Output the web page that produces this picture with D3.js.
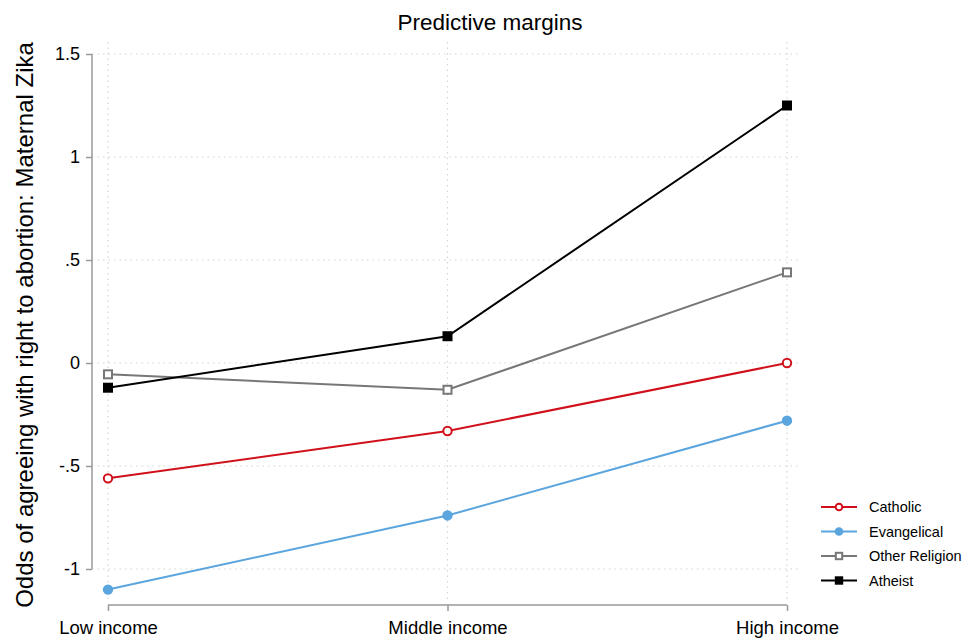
<!DOCTYPE html>
<html>
<head>
<meta charset="utf-8">
<script src="https://cdn.jsdelivr.net/npm/d3@7"></script>
<style>
  body { margin: 0; background: #fff; }
  text { font-family: Arial, "Liberation Sans", sans-serif; }
</style>
</head>
<body>
<svg id="chart" width="976" height="643"></svg>
<script>
// income groups on the x axis
const incomes = ["Low income", "Middle income", "High income"];
// predictive margins per religion
const catholic = [-0.56, -0.33, 0.0];
const evangelical = [-1.10, -0.74, -0.28];
const otherReligion = [-0.055, -0.13, 0.44];
const atheist = [-0.12, 0.13, 1.25];
const seriesNames = ["Catholic", "Evangelical", "Other Religion", "Atheist"];
const yTicks = [-1, -0.5, 0, 0.5, 1, 1.5];
const yTickLabels = ["-1", "-.5", "0", ".5", "1", "1.5"];

const svg = d3.select("#chart");

const x = d3.scalePoint().domain(incomes).range([108, 787]);
const y = d3.scaleLinear().domain([0, 1.5]).range([363, 54]);

// styles per series
const styles = [
  { color: "#d0111b", marker: "circle", fill: "#fff" },
  { color: "#5aa5de", marker: "circle", fill: "#5aa5de" },
  { color: "#777777", marker: "square", fill: "#fff" },
  { color: "#000000", marker: "square", fill: "#000" }
];
const allSeries = [catholic, evangelical, otherReligion, atheist];

// grid lines
svg.append("g").selectAll("line").data(yTicks).join("line")
  .attr("x1", 92).attr("x2", 800)
  .attr("y1", d => y(d)).attr("y2", d => y(d))
  .attr("stroke", "#d4d4d4").attr("stroke-width", 1.2)
  .attr("stroke-dasharray", "1.5,4");

svg.append("g").selectAll("line").data(incomes).join("line")
  .attr("x1", d => x(d)).attr("x2", d => x(d))
  .attr("y1", 42).attr("y2", 600)
  .attr("stroke", "#d4d4d4").attr("stroke-width", 1.2)
  .attr("stroke-dasharray", "1.5,4");

// y axis
const yAxis = d3.axisLeft(y).tickValues(yTicks)
  .tickFormat((d, i) => yTickLabels[i]).tickSize(6).tickPadding(6);
const gy = svg.append("g").attr("transform", "translate(92,0)").call(yAxis);
gy.select(".domain").attr("stroke", "#999").attr("stroke-width", 1.5)
  .attr("d", `M0,${y(1.5)}V${y(-1)}`);
gy.selectAll(".tick line").attr("stroke", "#999").attr("stroke-width", 1.5);
gy.selectAll(".tick text").attr("font-size", 18).attr("fill", "#000")
  .attr("font-family", "Arial, 'Liberation Sans', sans-serif");

// x axis
const xAxis = d3.axisBottom(x).tickSize(6).tickPadding(10);
const gx = svg.append("g").attr("transform", "translate(0,605)").call(xAxis);
gx.select(".domain").attr("stroke", "#999").attr("stroke-width", 1.5)
  .attr("d", `M${x(incomes[0])},0H${x(incomes[2])}`);
gx.selectAll(".tick line").attr("stroke", "#999").attr("stroke-width", 1.5);
gx.selectAll(".tick text").attr("font-size", 18.5).attr("fill", "#000")
  .attr("font-family", "Arial, 'Liberation Sans', sans-serif");

// title
svg.append("text").attr("x", 490).attr("y", 30)
  .attr("text-anchor", "middle").attr("font-size", 22.5)
  .text("Predictive margins");

// y label
svg.append("text")
  .attr("transform", "translate(33,325) rotate(-90)")
  .attr("text-anchor", "middle").attr("font-size", 24)
  .text("Odds of agreeing with right to abortion: Maternal Zika");

const line = d3.line().x((d, i) => x(incomes[i])).y(d => y(d));

function drawMarker(g, style, cx, cy, k) {
  k = k || 1;
  if (style.marker === "circle") {
    g.append("circle").attr("cx", cx).attr("cy", cy).attr("r", 4.2 * k)
      .attr("fill", style.fill).attr("stroke", style.color).attr("stroke-width", 2);
  } else {
    g.append("rect").attr("x", cx - 4 * k).attr("y", cy - 4 * k)
      .attr("width", 8 * k).attr("height", 8 * k)
      .attr("fill", style.fill).attr("stroke", style.color).attr("stroke-width", 2);
  }
}

// draw series
allSeries.forEach((vals, s) => {
  const g = svg.append("g");
  g.append("path").attr("d", line(vals))
    .attr("fill", "none").attr("stroke", styles[s].color).attr("stroke-width", 2);
  vals.forEach((v, i) => drawMarker(g, styles[s], x(incomes[i]), y(v)));
});

// legend
const leg = svg.append("g");
seriesNames.forEach((name, s) => {
  const ly = 507 + s * 24.5;
  leg.append("line").attr("x1", 821).attr("x2", 857)
    .attr("y1", ly).attr("y2", ly)
    .attr("stroke", styles[s].color).attr("stroke-width", 2);
  drawMarker(leg, styles[s], 839, ly, 0.8);
  leg.append("text").attr("x", 869).attr("y", ly + 5)
    .attr("font-size", 14.5).text(name);
});
</script>
</body>
</html>
